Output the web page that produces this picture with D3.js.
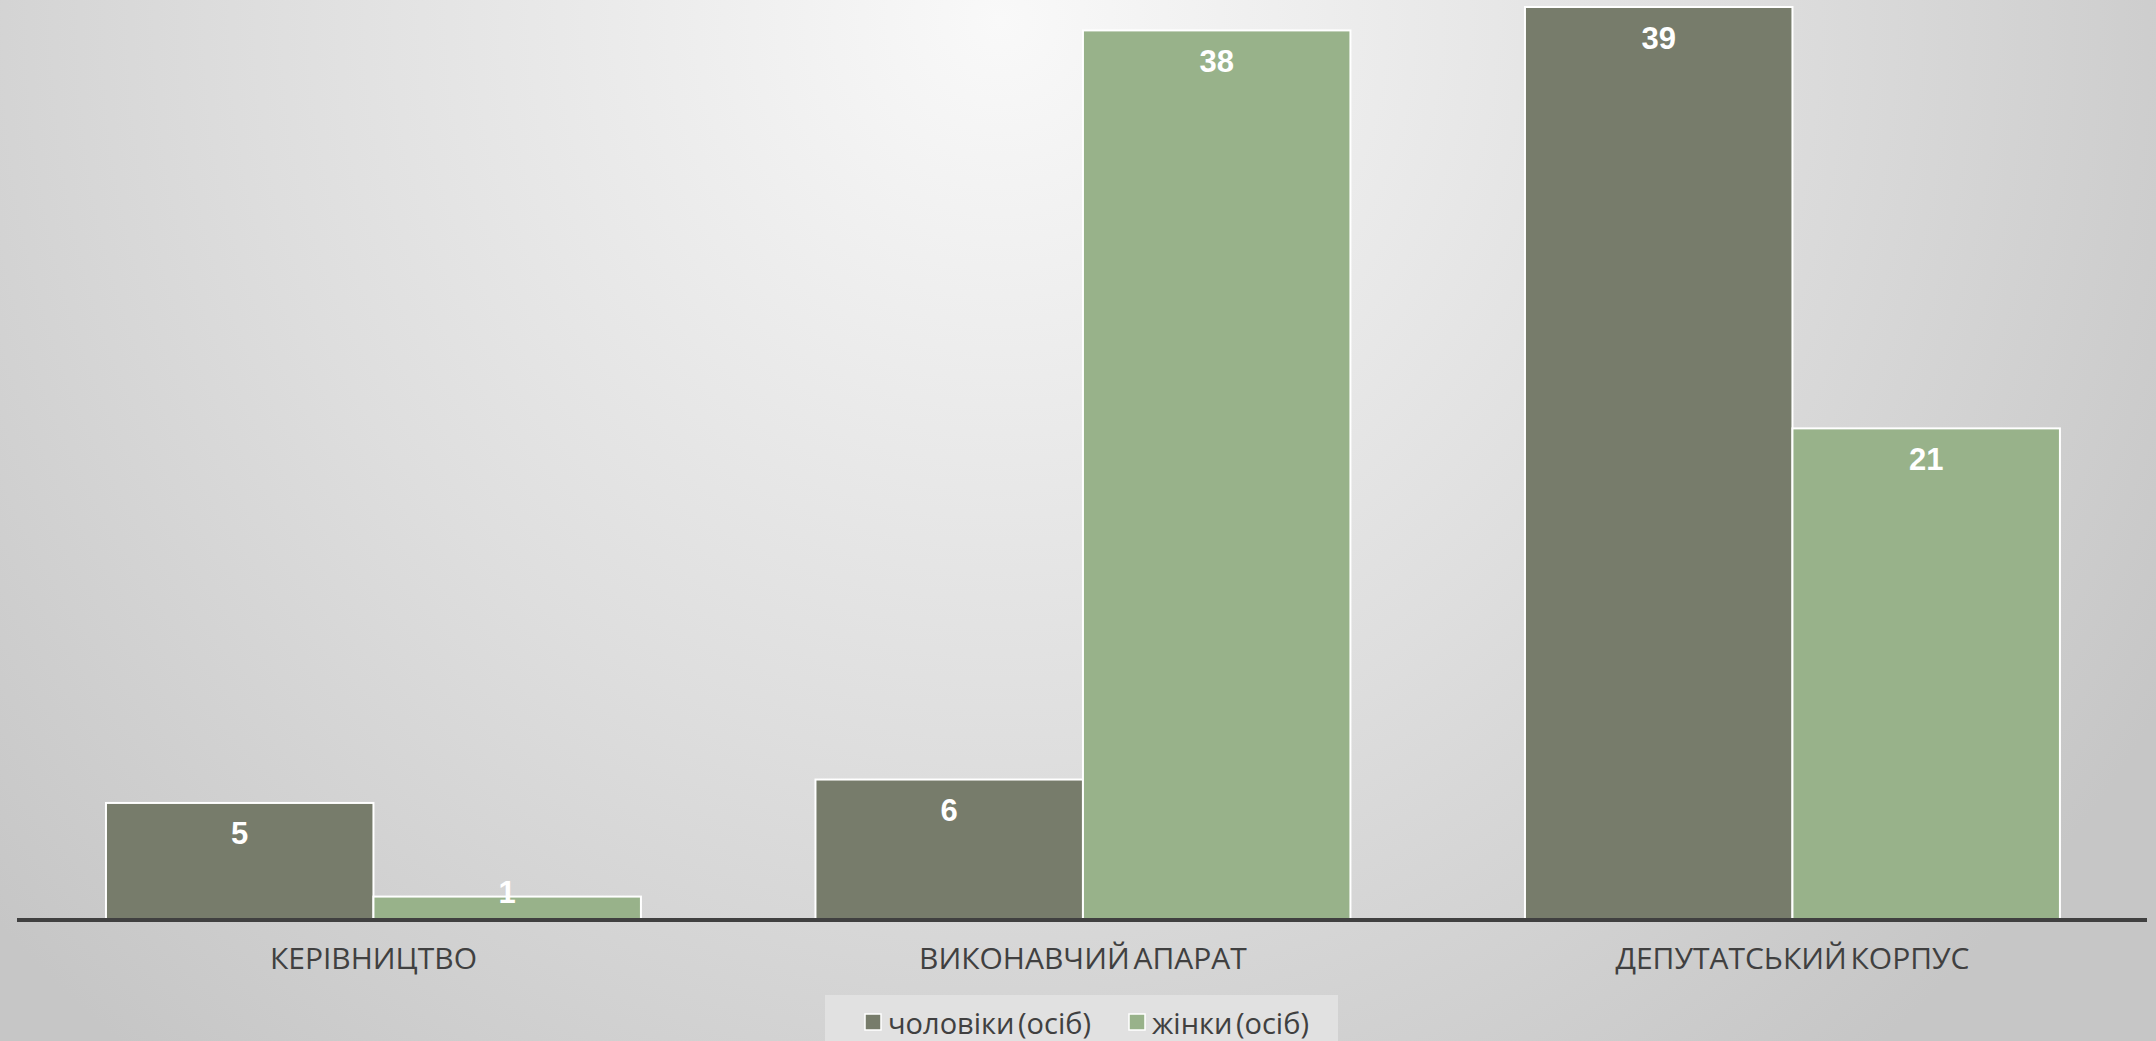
<!DOCTYPE html>
<html>
<head>
<meta charset="utf-8">
<script src="https://cdn.jsdelivr.net/npm/d3@7.9.0/dist/d3.min.js"></script>
<style>
  html, body { margin: 0; padding: 0; overflow: hidden; }
  svg { display: block; }
</style>
</head>
<body>
<div id="chart"></div>
<script>
const categories = ['КЕРІВНИЦТВО', 'ВИКОНАВЧИЙ АПАРАТ', 'ДЕПУТАТСЬКИЙ КОРПУС'];
const seriesNames = ['чоловіки (осіб)', 'жінки (осіб)'];
const men = [5, 6, 39];
const women = [1, 38, 21];
const colors = ['#777c6b', '#98b28a'];

const width = 2156;
const height = 1041;
const baseline = 920;

const svg = d3.select('#chart')
    .append('svg')
    .attr('width', width)
    .attr('height', height);

// background: soft radial grey
const defs = svg.append('defs');
const grad = defs.append('radialGradient')
    .attr('id', 'bg')
    .attr('gradientUnits', 'userSpaceOnUse')
    .attr('cx', 1000).attr('cy', 20).attr('r', 1350);
grad.append('stop').attr('offset', '0%').attr('stop-color', '#f9f9f9');
grad.append('stop').attr('offset', '55%').attr('stop-color', '#dedede');
grad.append('stop').attr('offset', '100%').attr('stop-color', '#c6c6c6');
svg.append('rect').attr('width', width).attr('height', height).attr('fill', 'url(#bg)');

const x = d3.scaleBand()
    .domain(categories)
    .range([18.7, 2147.2])
    .paddingInner(0.246)
    .paddingOuter(0.123);

const xSub = d3.scaleBand()
    .domain([0, 1])
    .range([0, x.bandwidth()]);

const y = d3.scaleLinear()
    .domain([0, 39])
    .range([baseline, 7]);

const rows = categories.map((c, i) => ({ cat: c, values: [men[i], women[i]] }));

const groups = svg.append('g')
    .selectAll('g')
    .data(rows)
    .join('g')
    .attr('transform', d => `translate(${x(d.cat)},0)`);

groups.selectAll('rect')
    .data(d => d.values.map((v, k) => ({ v, k })))
    .join('rect')
    .attr('x', d => xSub(d.k))
    .attr('y', d => y(d.v))
    .attr('width', xSub.bandwidth())
    .attr('height', d => baseline - y(d.v))
    .attr('fill', d => colors[d.k])
    .attr('stroke', '#ffffff')
    .attr('stroke-width', 2);

groups.selectAll('text.val')
    .data(d => d.values.map((v, k) => ({ v, k })))
    .join('text')
    .attr('class', 'val')
    .attr('x', d => xSub(d.k) + xSub.bandwidth() / 2)
    .attr('y', d => Math.min(y(d.v) + 31, baseline - 28))
    .attr('text-anchor', 'middle')
    .attr('dominant-baseline', 'central')
    .attr('fill', '#ffffff')
    .style('font-family', '"Liberation Sans", Arial, sans-serif')
    .style('font-weight', 'bold')
    .style('font-size', '31px')
    .text(d => d.v);

// axis line
const xAxis = d3.axisBottom(x).tickSize(0).tickPadding(28);
const axisG = svg.append('g')
    .attr('transform', `translate(0,${baseline})`)
    .call(xAxis);
axisG.select('.domain')
    .attr('d', 'M17,0H2147')
    .attr('stroke', '#404040')
    .attr('stroke-width', 4);
axisG.selectAll('text')
    .attr('fill', '#404040')
    .style('font-family', '"Open Sans", sans-serif')
    .style('font-size', '30px')
    .style('word-spacing', '-4px');

// legend
const legend = svg.append('g');
legend.append('rect')
    .attr('x', 825).attr('y', 995)
    .attr('width', 513).attr('height', 50)
    .attr('fill', '#e1e1e1');

const legendX = [865, 1129];
const items = legend.selectAll('g')
    .data(seriesNames)
    .join('g')
    .attr('transform', (d, i) => `translate(${legendX[i]},1022)`);
items.append('rect')
    .attr('x', 0).attr('y', -8)
    .attr('width', 16).attr('height', 16)
    .attr('fill', (d, i) => colors[i])
    .attr('stroke', '#ffffff')
    .attr('stroke-width', 1.5);
items.append('text')
    .attr('x', 23)
    .attr('y', 0)
    .attr('dominant-baseline', 'central')
    .attr('fill', '#404040')
    .style('font-family', '"Open Sans", sans-serif')
    .style('font-size', '29px')
    .style('word-spacing', '-4px')
    .text(d => d);
</script>
</body>
</html>
